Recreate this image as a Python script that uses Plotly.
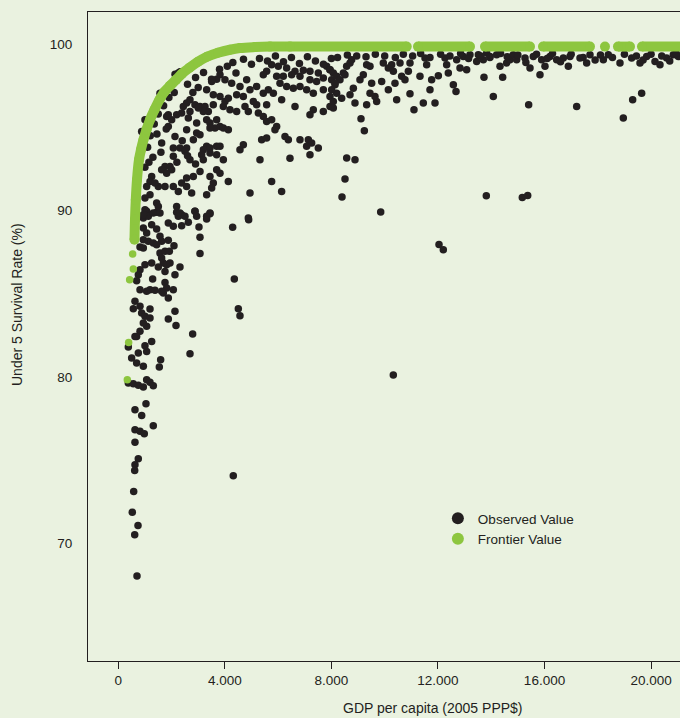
import plotly.graph_objects as go

# ---------------- data (GDP per capita, 2005 PPP$ ; under-5 survival rate, %) ----------------
gdp_obs = [
    # low tail
    1040, 627, 878, 1314, 627, 815, 976, 627, 751, 627,
    616, 4317, 578, 526, 740, 616, 702,
    # 78-90 band
    1065, 1440, 940, 1127, 2191, 2254, 2379, 2879, 3442, 3317,
    2629, 1878, 2066, 2379, 1253, 1440, 940, 1065, 3029, 4293,
    4894, 940, 1127, 1315, 1565, 1628, 815, 940, 1440, 1878,
    2091, 3067, 3067, 1565, 1753, 1916, 1628, 1690, 1503, 1816,
    1941, 1753, 2316, 1253, 1002, 815, 752, 689, 1290, 2128,
    1753, 1816, 2066, 1628, 1190, 1378, 1065, 815, 4356, 1878,
    1690, 627, 564, 815, 1190, 877, 1002, 1190, 2128, 1878,
    2166, 1065, 940, 4506, 4568, 2792, 815, 689, 377, 627,
    1002, 1253, 1065, 752, 502, 689, 940, 1590, 1540, 2692,
    377, 564, 752, 940, 1065, 1190, 1315,
    # 89-99 cluster
    2254, 1565, 1002, 877, 4093, 4418, 3818, 3693, 3505, 4005,
    4256, 4819, 4568, 5757, 6007, 6320, 6633, 6946, 7196, 7509,
    7822, 7947, 5569, 5444, 5945, 6195, 6508, 6821, 7196, 7446,
    7697, 8010, 8135, 3317, 3567, 3818, 4005, 4131, 3943, 3567,
    4443, 4694, 4944, 5194, 5444, 5632, 5820, 6070, 6320, 6570,
    6821, 7071, 7321, 7697, 7947, 8197, 6633, 6132, 5569, 5194,
    5069, 4756, 4881, 5257, 5444, 5569, 5757, 5945, 5882, 4443,
    4193, 7697, 7947, 7321, 7196, 2691, 2566, 2441, 2879, 3067,
    3255, 3380, 3192, 3004, 2691, 2629, 2379, 2191, 1878, 2003,
    1816, 2942, 3317, 3442, 3630, 3818, 3943, 4131, 3693, 3442,
    2566, 2128, 1878, 1628, 2066, 2316, 2566, 2942, 3067, 2817,
    3317, 3442, 3693, 3818, 3192, 3130, 3442, 3693, 3943, 3192,
    2691, 2504, 2066, 5319, 4568, 4694, 5382, 5569, 6258, 6383,
    6821, 7134, 7259, 7196, 7509, 6445, 7071, 1753, 1941, 1628,
    2003, 1816, 1253, 1190, 1503, 1378, 1065, 1753, 2066, 2379,
    2566, 2754, 2254, 2817, 3067, 2566, 3442, 3693, 3818, 3567,
    3505, 3317, 4131, 5757, 6132, 4944, 1190, 1002, 1440, 1503,
    1315, 1565, 1002, 940, 2191, 2316, 2504, 2879, 2942, 3442,
    3317, 4881, 2323, 2130,
    1200, 1350, 1500, 1700, 1900, 2100, 1100, 1300, 1600, 1450,
    1800, 2400, 2200, 2600, 2900, 1000, 1150,
    2600, 2900, 3200, 3500, 3800, 3000, 2800,
    4300, 4700, 5000, 5300, 5600, 5900, 6200, 6500, 6800, 7100,
    7400, 7700, 8000,
    # richer countries
    7947, 8072, 8197, 8322, 8448, 8573, 8698, 8760, 8510, 8135,
    8010, 8385, 8072, 8072, 8698, 8823, 8885, 9073, 9198, 9323,
    9449, 9511, 9449, 9636, 9699, 9323, 9111, 9236, 9887, 9949,
    10137, 10262, 10137, 10325, 10387, 10450, 10575, 10637, 10762, 10950,
    10888, 10950, 11100, 11325, 11450, 11513, 11576, 11701, 11763, 11889,
    12014, 12264, 12327, 12389, 12577, 12677, 12702, 12827, 12952, 13077,
    13202, 13453, 13515, 13703, 13728, 13828, 13953, 14078, 14204, 14329,
    14429, 14579, 14704, 14829, 14954, 15267, 15405, 15455, 15580, 15830,
    15893, 16018, 16206, 16456, 16706, 16894, 16956, 17207, 17332, 17582,
    17707, 18208, 18395, 18833, 18958, 19271, 19309, 19647, 19584, 19834,
    20147, 20335, 20585, 20835, 21023,
    8230, 8600, 8950, 9300, 9650, 10000, 10400, 10700, 11050, 11350,
    11700, 12100, 12450, 12850, 13150, 13600, 13950, 14350, 14600, 15000,
    15300, 15700, 16100, 16300, 16600, 17000, 17450, 17900, 18100, 18550,
    19000, 19450, 19700, 20000, 20400, 20700, 20950,
    # outliers
    8574, 8886, 8511, 8398, 9851, 13815, 15166, 15369, 12039, 12201,
    10324,
]
u5_obs = [
    78.38, 78.02, 77.68, 77.06, 76.82, 76.72, 76.58, 76.06, 75.07, 74.71,
    74.37, 74.05, 73.11, 71.85, 71.06, 70.50, 68.02,
    89.95, 89.89, 89.55, 89.65, 89.89, 89.65, 89.75, 89.95, 89.81, 89.49,
    89.29, 89.25, 89.05, 89.09, 89.15, 88.89, 88.95, 88.65, 89.01, 88.99,
    89.45, 88.25, 88.15, 88.05, 88.45, 88.15, 87.81, 87.75, 87.95, 88.21,
    87.89, 88.39, 87.42, 87.44, 87.55, 87.55, 87.14, 86.84, 86.60, 86.74,
    86.84, 86.34, 86.60, 86.84, 86.74, 86.44, 86.14, 85.78, 85.88, 86.14,
    85.68, 85.34, 85.24, 85.14, 85.24, 85.20, 85.14, 85.24, 85.88, 84.74,
    85.04, 84.54, 84.10, 84.24, 84.08, 83.84, 83.64, 83.54, 83.94, 83.48,
    83.08, 83.04, 83.24, 84.10, 83.68, 82.57, 82.74, 82.43, 81.79, 82.43,
    81.87, 82.13, 81.53, 81.43, 81.13, 80.83, 80.63, 81.03, 80.59, 81.39,
    79.63, 79.59, 79.49, 79.39, 79.83, 79.67, 79.47,
    98.27, 97.06, 95.46, 94.76, 98.67, 98.27, 98.17, 97.90, 97.76, 97.86,
    97.66, 97.86, 97.46, 98.77, 98.67, 98.57, 98.37, 98.43, 98.37, 98.27,
    98.67, 98.47, 98.37, 98.17, 98.07, 98.07, 98.17, 98.07, 97.86, 97.76,
    97.97, 97.86, 97.56, 97.26, 96.96, 96.86, 96.56, 96.76, 96.26, 96.36,
    96.96, 96.86, 97.26, 97.46, 97.06, 97.26, 97.06, 97.66, 97.46, 97.36,
    97.46, 97.26, 97.06, 97.26, 96.86, 97.06, 96.26, 96.66, 96.36, 96.36,
    96.56, 96.26, 95.96, 95.86, 95.66, 95.36, 95.46, 95.06, 94.86, 95.96,
    96.06, 95.96, 96.26, 96.06, 95.76, 96.66, 96.46, 96.26, 96.36, 96.26,
    96.26, 95.96, 95.96, 96.16, 95.96, 95.56, 95.86, 95.76, 95.76, 95.46,
    95.66, 95.26, 95.46, 95.26, 94.96, 95.06, 94.96, 94.86, 95.46, 94.96,
    94.86, 94.46, 95.06, 94.06, 93.76, 93.76, 93.76, 94.66, 94.56, 94.26,
    93.86, 93.76, 93.86, 93.86, 93.66, 93.36, 93.46, 93.36, 93.05, 93.05,
    93.05, 93.56, 93.26, 93.05, 93.66, 93.96, 94.26, 94.36, 94.46, 94.26,
    94.26, 94.26, 94.06, 93.36, 93.76, 93.15, 93.86, 92.65, 92.65, 92.45,
    92.45, 92.25, 92.05, 91.75, 91.45, 91.65, 91.45, 91.45, 91.45, 91.65,
    91.45, 91.05, 91.15, 92.05, 92.35, 91.95, 92.05, 92.45, 92.25, 91.65,
    91.35, 90.95, 91.75, 91.75, 91.15, 91.05, 90.95, 90.75, 90.45, 90.25,
    89.85, 89.85, 90.05, 89.75, 90.25, 89.85, 89.65, 89.95, 89.65, 89.85,
    89.65, 89.55, 98.35, 98.20,
    94.50, 95.20, 95.80, 96.30, 96.80, 97.10, 93.80, 93.20, 93.50, 94.60,
    94.90, 94.20, 92.90, 93.30, 92.80, 92.60, 92.90,
    97.60, 98.00, 98.30, 97.90, 98.50, 97.40, 97.10,
    98.90, 99.10, 98.80, 99.15, 99.00, 99.30, 98.95, 99.20, 98.85, 99.25,
    99.00, 98.80, 99.15,
    98.47, 98.27, 98.07, 97.86, 98.27, 98.67, 98.87, 99.07, 98.17, 97.66,
    97.26, 96.76, 96.56, 96.16, 96.96, 97.36, 96.46, 97.86, 98.17, 98.77,
    98.67, 97.66, 97.06, 96.86, 96.56, 96.36, 95.52, 94.80, 97.76, 98.87,
    98.57, 98.77, 97.26, 98.37, 97.66, 96.66, 98.87, 98.07, 97.86, 98.87,
    98.37, 97.02, 96.06, 98.07, 96.46, 99.17, 98.77, 97.26, 97.86, 96.46,
    98.11, 99.17, 98.77, 98.27, 97.56, 97.16, 99.07, 98.57, 99.27, 98.47,
    99.37, 98.97, 99.37, 99.07, 98.01, 99.47, 99.27, 96.86, 99.37, 98.67,
    98.01, 98.87, 99.07, 99.37, 99.07, 99.17, 96.36, 98.57, 99.27, 98.17,
    99.07, 98.67, 99.27, 99.07, 99.17, 98.67, 99.27, 96.26, 99.17, 98.87,
    99.37, 99.07, 99.37, 98.87, 95.56, 99.17, 96.66, 97.06, 98.87, 99.27,
    98.97, 98.77, 99.17, 99.37, 99.27,
    99.20, 99.35, 99.30, 99.25, 99.40, 99.30, 99.20, 99.40, 99.30, 99.45,
    99.20, 99.40, 99.30, 99.45, 99.15, 99.30, 99.20, 99.45, 99.25, 99.35,
    98.90, 99.40, 99.15, 99.45, 98.95, 99.40, 99.20, 99.05, 99.35, 99.20,
    99.40, 99.30, 99.05, 99.40, 99.30, 99.00, 99.45,
    93.16, 93.05, 91.89, 90.81, 89.91, 90.89, 90.79, 90.91, 87.96, 87.64,
    80.11,
]

# frontier estimates (continuous stretches; None marks gaps between countries)
gdp_frontier = [608, 627, 657, 702, 777, 852, 946, 1059, 1190, 1359,
                1547, 1734, 1941, 2166, 2391, 2673, 2992, 3330, 3743, 4193,
                4568, 5131, 5695, 6446, 10827, None,
                11251, 13203, None, 13766, 15455, None, 15943, 17707, None,
                18270, None, 18758, 19209, None, 19659, 21500]
u5_frontier = [88.24, 89.45, 90.65, 91.85, 93.05, 93.66, 94.26, 94.86, 95.46, 96.06,
               96.66, 97.14, 97.50, 97.86, 98.23, 98.59, 98.95, 99.25, 99.49, 99.67,
               99.77, 99.83, 99.86, 99.86, 99.86, None,
               99.86, 99.86, None, 99.86, 99.86, None, 99.86, 99.86, None,
               99.86, None, 99.86, 99.86, None, 99.86, 99.86]

# isolated frontier values of the poorest countries
gdp_frontier_low = [539, 564, 427, 389, 339]
u5_frontier_low = [87.38, 86.48, 85.84, 82.07, 79.83]

x_tickvals = [0, 4000, 8000, 12000, 16000, 20000]
x_ticktext = ["0", "4.000", "8.000", "12.000", "16.000", "20.000"]
y_tickvals = [70, 80, 90, 100]

BG = "#EAF2E0"
INK = "#231F20"
GREEN = "#8DC63F"
FONT = "Liberation Sans, Arial, sans-serif"

fig = go.Figure()
fig.add_trace(go.Scatter(
    x=gdp_obs, y=u5_obs, mode="markers", name="Observed Value",
    marker=dict(color=INK, size=7.5, line=dict(width=0)),
))
fig.add_trace(go.Scatter(
    x=gdp_frontier, y=u5_frontier, mode="lines+markers", showlegend=False,
    line=dict(color=GREEN, width=10, shape="spline"), connectgaps=False,
    marker=dict(color=GREEN, size=10, line=dict(width=0)),
))
fig.add_trace(go.Scatter(
    x=gdp_frontier_low, y=u5_frontier_low, mode="markers", name="Frontier Value",
    marker=dict(color=GREEN, size=7.5, line=dict(width=0)),
))

fig.update_layout(
    width=680, height=718,
    margin=dict(l=88, r=0, t=12, b=57),
    paper_bgcolor=BG, plot_bgcolor=BG,
    font=dict(family=FONT, size=13.5, color=INK),
    showlegend=True,
    legend=dict(x=0.591, y=0.2034, xanchor="left", yanchor="middle",
                bgcolor="rgba(0,0,0,0)", itemsizing="constant",
                font=dict(family=FONT, size=13.5, color=INK), tracegroupgap=0),
    xaxis=dict(range=[-1137, 21086], tickvals=x_tickvals, ticktext=x_ticktext,
               ticks="outside", ticklen=7, tickcolor=INK, tickwidth=1,
               showline=True, linecolor=INK, linewidth=1, mirror=True,
               showgrid=False, zeroline=False),
    yaxis=dict(range=[62.91, 101.94], tickvals=y_tickvals,
               ticks="", showline=True, linecolor=INK, linewidth=1,
               ticklabelstandoff=12, showgrid=False, zeroline=False),
    annotations=[
        dict(text="GDP per capita (2005 PPP$)", xref="paper", yref="paper",
             x=0.5828, y=-0.0724, xanchor="center", yanchor="middle",
             showarrow=False, font=dict(family=FONT, size=14, color=INK)),
        dict(text="Under 5 Survival Rate (%)", xref="paper", yref="paper",
             x=-0.12, y=0.55, xanchor="center", yanchor="middle", textangle=-90,
             showarrow=False, font=dict(family=FONT, size=14, color=INK)),
    ],
)

fig.write_html(
    "out.html",
    config={"displayModeBar": False},
    post_script="document.body.style.margin='0';document.body.style.background='#EAF2E0';",
)
